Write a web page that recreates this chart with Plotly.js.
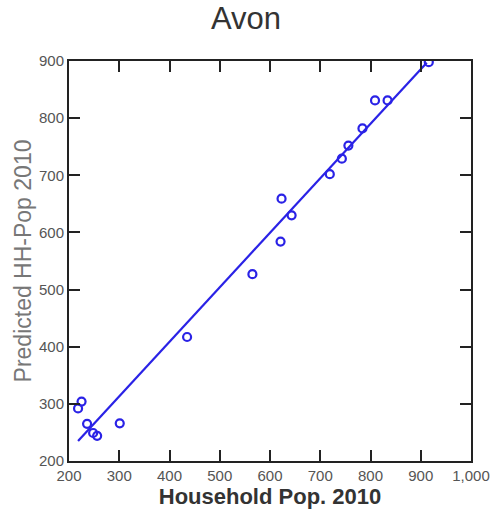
<!DOCTYPE html>
<html>
<head>
<meta charset="utf-8">
<script src="https://cdn.plot.ly/plotly-3.0.1.min.js"></script>
<style>html,body{margin:0;padding:0;background:#fff;}#chart{width:492px;height:521px;}</style>
</head>
<body>
<div id="chart"></div>
<script>
const householdPop = [916, 809, 834, 784, 756, 743, 719, 623, 643, 621, 565, 435, 225, 218, 236, 248, 256, 301];
const predictedPop = [898, 831, 831, 782, 752, 729, 702, 659, 630, 584, 527, 417, 304, 292, 265, 249, 244, 266];
const fitX = [218, 912];
const fitY = [235, 897];
const xTicks = [200, 300, 400, 500, 600, 700, 800, 900, 1000];
const yTicks = [200, 300, 400, 500, 600, 700, 800, 900];

const blue = '#2a22e6';
const font = 'Liberation Sans, Arial, sans-serif';
const data = [
  {x: fitX, y: fitY, mode: 'lines', type: 'scatter', line: {color: blue, width: 2.2}, hoverinfo: 'skip'},
  {x: householdPop, y: predictedPop, mode: 'markers', type: 'scatter',
   marker: {symbol: 'circle-open', size: 8, color: blue, line: {width: 2.2, color: blue}}}
];
const axisCommon = {
  showline: true, linecolor: '#222', linewidth: 2, mirror: 'ticks',
  ticks: 'inside', ticklen: 11, tickwidth: 2, tickcolor: '#222',
  showgrid: false, zeroline: false,
  tickfont: {family: font, size: 15, color: '#555'}
};
const layout = {
  width: 492, height: 521,
  margin: {l: 69, r: 21, t: 61, b: 60},
  paper_bgcolor: '#fff', plot_bgcolor: '#fff',
  showlegend: false,
  title: {text: 'Avon', x: 0.5, xanchor: 'center', yref: 'container', y: 0.965, yanchor: 'middle',
          font: {family: font, size: 31, color: '#333'}},
  xaxis: Object.assign({}, axisCommon, {
    range: [200, 1000], tickvals: xTicks, tickformat: ',d',
    title: {text: '<b>Household Pop. 2010</b>', standoff: 6,
            font: {family: font, size: 22, color: '#333'}}
  }),
  yaxis: Object.assign({}, axisCommon, {
    range: [200, 900], tickvals: yTicks,
    title: {text: 'Predicted HH-Pop 2010', standoff: 1,
            font: {family: font, size: 23, color: '#777'}}
  })
};
Plotly.newPlot('chart', data, layout, {displayModeBar: false, staticPlot: true});
</script>
</body>
</html>
